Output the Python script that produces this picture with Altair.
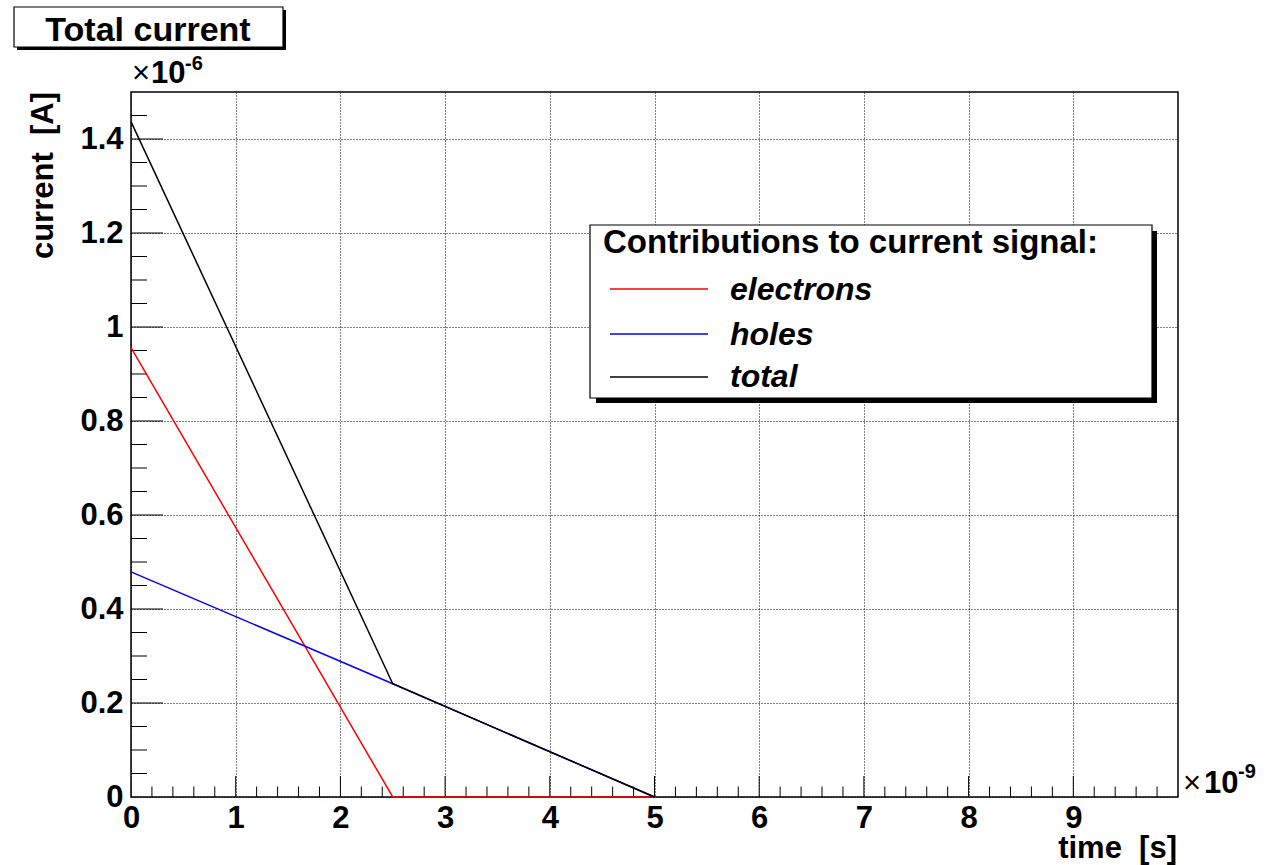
import altair as alt
import pandas as pd
import numpy as np

# ---------------- data ----------------
series_names = ["electrons", "holes", "total"]
series_colors = ["#ff0000", "#0000ff", "#000000"]

time_e9 = [0.0, 2.5, 5.0]                 # time in units of 1e-9 s
electrons_e6 = [0.956, 0.0, 0.0]          # current in units of 1e-6 A
holes_e6 = [0.479, 0.241, 0.0]
total_e6 = [1.437, 0.241, 0.0]

x_tick_labels = [0, 1, 2, 3, 4, 5, 6, 7, 8, 9]
y_tick_labels = [0, 0.2, 0.4, 0.6, 0.8, 1, 1.2, 1.4]

chart_title = "Total current"
legend_title = "Contributions to current signal:"
x_title = "time\u00a0\u00a0[s]"
y_title = "current\u00a0\u00a0[A]"

# inward tick positions (ROOT style)
x_major_ticks = [1, 2, 3, 4, 5, 6, 7, 8, 9]
x_minor_ticks = [round(v, 2) for v in np.arange(0.2, 10.0, 0.2) if abs(v - round(v)) > 1e-6]
y_major_ticks = [0.2, 0.4, 0.6, 0.8, 1.0, 1.2, 1.4]
y_minor_ticks = [round(v, 3) for v in np.arange(0.05, 1.5, 0.05) if abs(v / 0.2 - round(v / 0.2)) > 1e-6]

# ---------------- layout ----------------
W, H = 1047, 705
FONT = "Liberation Sans"

rows = []
for name, vals in zip(series_names, [electrons_e6, holes_e6, total_e6]):
    for t, v in zip(time_e9, vals):
        rows.append({"series": name, "t": t, "current": v})
df = pd.DataFrame(rows)

xscale = alt.Scale(domain=[0, 10], nice=False, zero=False)
yscale = alt.Scale(domain=[0, 1.5], nice=False, zero=False)

common_axis = dict(format="~g", ticks=False, tickSize=0, domain=False,
                   grid=True, gridDash=[1, 2], gridColor="#000000", gridOpacity=1, gridWidth=1,
                   labelFont=FONT, labelFontWeight="bold", labelFontSize=31, labelColor="#000000",
                   labelOverlap=False, labelFlush=False, title=None)
xaxis = alt.Axis(values=x_tick_labels, labelPadding=6, **common_axis)
yaxis = alt.Axis(values=y_tick_labels, labelPadding=8, **common_axis)

lines = alt.Chart(df).mark_line(strokeWidth=1.5, interpolate="linear").encode(
    x=alt.X("t:Q", scale=xscale, axis=xaxis),
    y=alt.Y("current:Q", scale=yscale, axis=yaxis),
    color=alt.Color("series:N", scale=alt.Scale(domain=series_names, range=series_colors), legend=None),
    order=alt.Order("t:Q"),
)

def xticks(vals, length):
    return alt.Chart(pd.DataFrame({"t": vals})).mark_rule(color="black", strokeWidth=1).encode(
        x=alt.X("t:Q", scale=xscale, axis=xaxis),
        y=alt.value(H), y2=alt.value(H - length))

def yticks(vals, length):
    return alt.Chart(pd.DataFrame({"current": vals})).mark_rule(color="black", strokeWidth=1).encode(
        y=alt.Y("current:Q", scale=yscale, axis=yaxis),
        x=alt.value(0), x2=alt.value(length))

one = pd.DataFrame({"a": [0]})

def rect(x, x2, y, y2, fill, stroke=None):
    kw = {"fill": fill}
    if stroke:
        kw["stroke"] = stroke
        kw["strokeWidth"] = 1.2
    return alt.Chart(one).mark_rect(**kw).encode(
        x=alt.value(x), x2=alt.value(x2), y=alt.value(y), y2=alt.value(y2))

def text(s, x, y, size, weight="bold", style="normal", align="left", angle=0, baseline="alphabetic"):
    return alt.Chart(one).mark_text(text=s, font=FONT, fontSize=size, fontWeight=weight,
                                    fontStyle=style, align=align, baseline=baseline,
                                    angle=angle, color="black").encode(
        x=alt.value(x), y=alt.value(y))

layers = [
    xticks(x_minor_ticks, 10.5), xticks(x_major_ticks, 21),
    yticks(y_minor_ticks, 16), yticks(y_major_ticks, 32),
    lines,
    # legend box with shadow
    rect(465, 1026, 139, 311, "black"),
    rect(459, 1021, 133, 306, "white", "black"),
    text(legend_title, 472, 161, 33),
]
legend_rows_y = [197, 242, 285]
legend_text_y = [208, 253, 295]
for name, col, ly, ty in zip(series_names, series_colors, legend_rows_y, legend_text_y):
    layers.append(alt.Chart(one).mark_rule(color=col, strokeWidth=1.5).encode(
        x=alt.value(479), x2=alt.value(577), y=alt.value(ly)))
    layers.append(text(name, 599, ty, 32, style="italic"))

layers += [
    # title box with shadow
    rect(-114, 155, -82, -42, "black"),
    rect(-117, 152, -85, -45, "white", "black"),
    text(chart_title, 17, -51, 34, align="center"),
    # exponents
    text("\u00d7", 1, -9, 31, weight="normal"),
    text("10", 20, -9, 31),
    text("-6", 54, -22, 20),
    text("\u00d7", 1052, 701, 31, weight="normal"),
    text("10", 1073, 701, 31),
    text("-9", 1107, 686, 20),
    # axis titles
    text(x_title, 1046, 766, 31, align="right"),
    text(y_title, -78, 0, 31, align="right", angle=270),
]

chart = alt.layer(*layers).properties(
    width=W, height=H,
    autosize=alt.AutoSizeParams(type="none"),
    padding={"left": 131, "top": 92, "right": 88, "bottom": 68},
    background="white",
).configure_view(stroke="black", strokeWidth=1.5)

chart.save("out.html", embed_options={"renderer": "svg", "actions": False})
